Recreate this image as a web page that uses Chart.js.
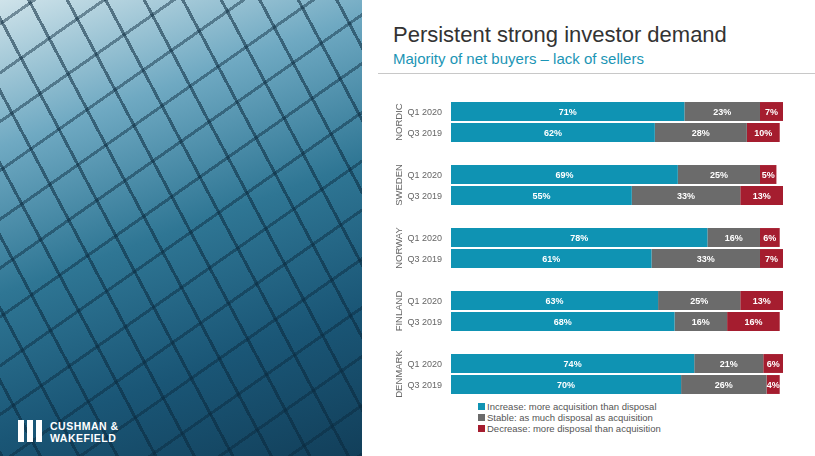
<!DOCTYPE html>
<html><head><meta charset="utf-8">
<script src="https://cdn.jsdelivr.net/npm/chart.js@4"></script>
<style>
body{margin:0;width:815px;height:456px;overflow:hidden;background:#fff;font-family:"Liberation Sans",Arial,sans-serif;position:relative}
#photo{position:absolute;left:0;top:0;width:362px;height:456px;
background:
repeating-linear-gradient(62deg,rgba(10,40,60,0.55) 0 3px,transparent 3px 34px),
repeating-linear-gradient(-35deg,rgba(10,40,60,0.45) 0 3px,transparent 3px 40px),
linear-gradient(160deg,#cfe3ea 0%,#6fa9c2 25%,#2f7694 50%,#1a5676 75%,#123f5a 100%);}
#logo{position:absolute;left:50px;top:420px;color:#fff;font-weight:bold;font-size:10.5px;line-height:12px;letter-spacing:0.5px}
#logoicon{position:absolute;left:18px;top:420px;width:24px;height:22px;background:linear-gradient(90deg,#fff 0 6px,transparent 6px 9px,#fff 9px 15px,transparent 15px 18px,#fff 18px 24px)}
#title{position:absolute;left:393px;top:22px;font-size:22px;color:#333}
#sub{position:absolute;left:393px;top:50px;font-size:15px;color:#1b95b5}
#rule{position:absolute;left:378px;top:73px;width:437px;height:1px;background:#c8c8c8}
#c{position:absolute;left:378px;top:99px}
#legend{position:absolute;left:478px;top:401px;font-size:9.5px;color:#555;line-height:11px}
#legend span{display:inline-block;width:7px;height:7px;margin-right:2px}
</style></head><body>
<div id="photo"></div><div id="logoicon"></div><div id="logo">CUSHMAN &amp;<br>WAKEFIELD</div>
<div id="title">Persistent strong investor demand</div>
<div id="sub">Majority of net buyers – lack of sellers</div>
<div id="rule"></div>
<canvas id="c" width="412" height="298" style="width:412px;height:298px"></canvas>
<div id="legend">
<div><span style="background:#0f93b3"></span>Increase: more acquisition than disposal</div>
<div><span style="background:#6b6b6b"></span>Stable: as much disposal as acquisition</div>
<div><span style="background:#a51d2f"></span>Decrease: more disposal than acquisition</div>
</div>
<script>
const countries=["NORDIC","SWEDEN","NORWAY","FINLAND","DENMARK"];
const periods=["Q1 2020","Q3 2019"];
const increase=[71,62,69,55,78,61,63,68,74,70];
const stable=[23,28,25,33,16,33,25,16,21,26];
const decrease=[7,10,5,13,6,7,13,16,6,4];
const labels=[];const inc=[],sta=[],dec=[];
countries.forEach((c,i)=>{
  periods.forEach((p,j)=>{labels.push(p);inc.push(increase[i*2+j]);sta.push(stable[i*2+j]);dec.push(decrease[i*2+j]);});
  if(i<countries.length-1){labels.push("");inc.push(null);sta.push(null);dec.push(null);}
});
const dl={id:'dl',afterDatasetsDraw(ch){const x=ch.ctx;x.save();x.font='bold 9px "Liberation Sans",Arial';x.fillStyle='#fff';x.textAlign='center';x.textBaseline='middle';
 ch.data.datasets.forEach((d,di)=>{ch.getDatasetMeta(di).data.forEach((e,k)=>{if(d.data[k]==null)return;x.fillText(d.data[k]+'%',(e.x+e.base)/2,e.y+1);});});
 const y=ch.scales.y;x.font='9px "Liberation Sans",Arial';x.fillStyle='#666';x.textAlign='right';
 labels.forEach((l,k)=>{if(l)x.fillText(l,64,y.getPixelForValue(k)+1);});
 x.textAlign='center';x.font='9.5px "Liberation Sans",Arial';
 countries.forEach((c,i)=>{const py=(y.getPixelForValue(i*3)+y.getPixelForValue(i*3+1))/2;x.save();x.translate(21,py);x.rotate(-Math.PI/2);x.fillText(c,0,0);x.restore();});
 x.restore();}};
new Chart(document.getElementById('c'),{type:'bar',
data:{labels,datasets:[
{label:'Increase',data:inc,backgroundColor:'#0f93b3'},
{label:'Stable',data:sta,backgroundColor:'#6b6b6b'},
{label:'Decrease',data:dec,backgroundColor:'#a51d2f'}]},
options:{indexAxis:'y',responsive:false,animation:false,layout:{padding:{top:2,right:7,bottom:2,left:0}},
datasets:{bar:{categoryPercentage:0.9,barPercentage:1}},
plugins:{legend:{display:false},tooltip:{enabled:false}},
scales:{x:{stacked:true,min:0,max:101,display:false},
y:{stacked:true,grid:{display:false},border:{display:false},afterFit(s){s.width=73;},
ticks:{display:false}}}},
plugins:[dl]});
</script></body></html>
